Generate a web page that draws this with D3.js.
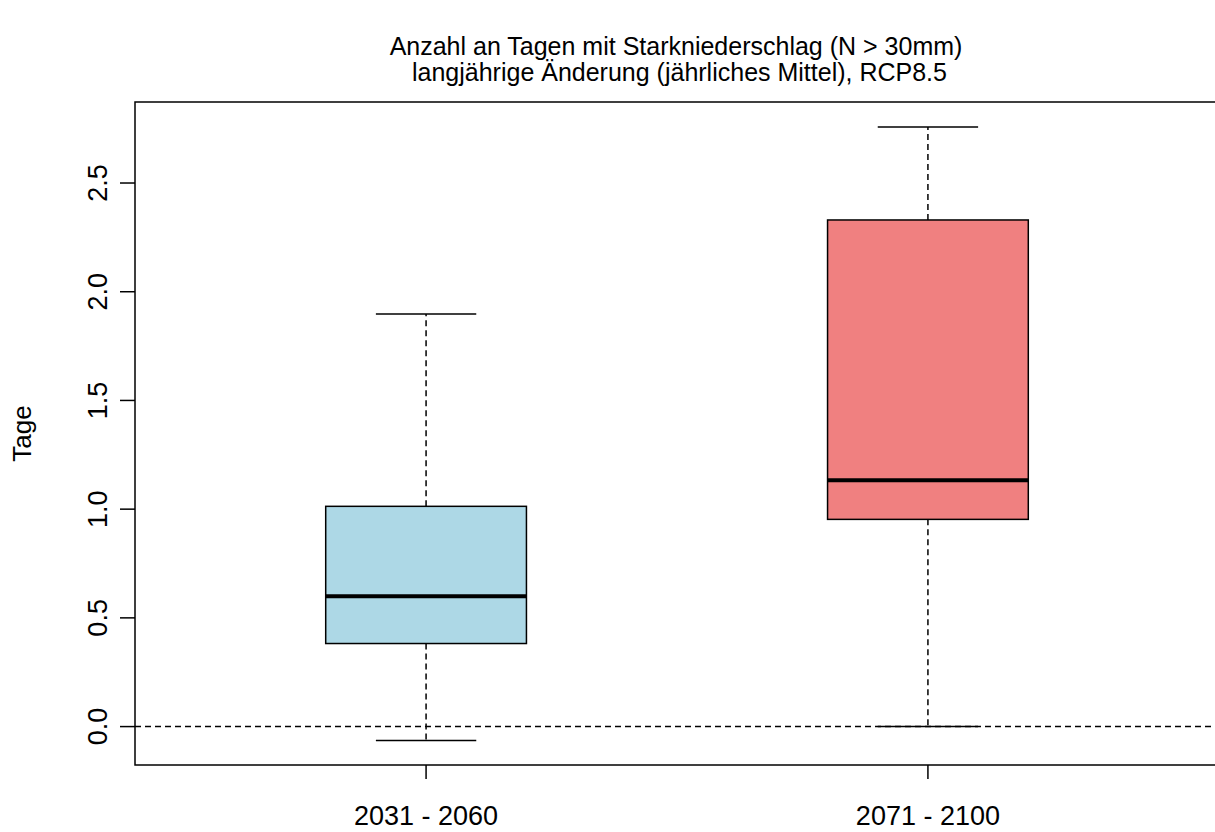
<!DOCTYPE html>
<html>
<head>
<meta charset="utf-8">
<script src="https://cdn.jsdelivr.net/npm/d3@7"></script>
<style>
  body { margin: 0; background: #fff; }
  svg { display: block; font-family: "Liberation Sans", Arial, sans-serif; }
</style>
</head>
<body>
<div id="chart"></div>
<script>
// data
const periods = ['2031 - 2060', '2071 - 2100'];
const whiskerLow = [-0.064, 0.0];
const q1 = [0.382, 0.953];
const median = [0.599, 1.133];
const q3 = [1.013, 2.33];
const whiskerHigh = [1.897, 2.758];
const fills = ['#add8e6', '#f08080'];
const yTicks = [0, 0.5, 1, 1.5, 2, 2.5];
const titleLines = ['Anzahl an Tagen mit Starkniederschlag (N > 30mm)', ' langjährige Änderung (jährliches Mittel), RCP8.5'];

const width = 1215, height = 832;
const plotLeft = 135, plotRight = 1219, plotTop = 102, plotBottom = 765;

const svg = d3.select('#chart').append('svg')
  .attr('width', width)
  .attr('height', height);

const x = d3.scaleLinear().domain([0.42, 2.58]).range([plotLeft, plotRight]);
const y = d3.scaleLinear().domain([-0.1767, 2.8726]).range([plotBottom, plotTop]);

const boxes = periods.map((p, i) => ({
  pos: i + 1, label: p, lo: whiskerLow[i], q1: q1[i], med: median[i], q3: q3[i], hi: whiskerHigh[i], fill: fills[i]
}));

// zero line
svg.append('line')
  .attr('x1', plotLeft).attr('x2', width)
  .attr('y1', y(0)).attr('y2', y(0))
  .attr('stroke', '#000').attr('stroke-width', 1.5)
  .attr('stroke-dasharray', '6,4');

const g = svg.append('g').selectAll('g')
  .data(boxes)
  .enter()
  .append('g');

// whiskers
g.append('line')
  .attr('x1', d => x(d.pos)).attr('x2', d => x(d.pos))
  .attr('y1', d => y(d.q3)).attr('y2', d => y(d.hi))
  .attr('stroke', '#000').attr('stroke-width', 1.5).attr('stroke-dasharray', '6,4');
g.append('line')
  .attr('x1', d => x(d.pos)).attr('x2', d => x(d.pos))
  .attr('y1', d => y(d.q1)).attr('y2', d => y(d.lo))
  .attr('stroke', '#000').attr('stroke-width', 1.5).attr('stroke-dasharray', '6,4');

// caps
['hi', 'lo'].forEach(k => {
  g.append('line')
    .attr('x1', d => x(d.pos - 0.1)).attr('x2', d => x(d.pos + 0.1))
    .attr('y1', d => y(d[k])).attr('y2', d => y(d[k]))
    .attr('stroke', '#000').attr('stroke-width', 1.5);
});

// boxes
g.append('rect')
  .attr('x', d => x(d.pos - 0.2))
  .attr('width', d => x(d.pos + 0.2) - x(d.pos - 0.2))
  .attr('y', d => y(d.q3))
  .attr('height', d => y(d.q1) - y(d.q3))
  .attr('fill', d => d.fill)
  .attr('stroke', '#000').attr('stroke-width', 1.5);

// medians
g.append('line')
  .attr('x1', d => x(d.pos - 0.2)).attr('x2', d => x(d.pos + 0.2))
  .attr('y1', d => y(d.med)).attr('y2', d => y(d.med))
  .attr('stroke', '#000').attr('stroke-width', 4);

// frame
svg.append('rect')
  .attr('x', plotLeft).attr('y', plotTop)
  .attr('width', plotRight - plotLeft).attr('height', plotBottom - plotTop)
  .attr('fill', 'none').attr('stroke', '#000').attr('stroke-width', 1.5);

// x axis
const xAxis = svg.append('g');
xAxis.selectAll('line')
  .data(boxes)
  .enter()
  .append('line')
  .attr('x1', d => x(d.pos)).attr('x2', d => x(d.pos))
  .attr('y1', plotBottom).attr('y2', plotBottom + 14)
  .attr('stroke', '#000').attr('stroke-width', 1.5);
xAxis.selectAll('text')
  .data(boxes)
  .enter()
  .append('text')
  .attr('x', d => x(d.pos))
  .attr('y', 825)
  .attr('text-anchor', 'middle')
  .style('font-size', '27px')
  .text(d => d.label);

// y axis
const yAxis = svg.append('g');
yAxis.selectAll('line')
  .data(yTicks)
  .enter()
  .append('line')
  .attr('x1', plotLeft - 15).attr('x2', plotLeft)
  .attr('y1', d => y(d)).attr('y2', d => y(d))
  .attr('stroke', '#000').attr('stroke-width', 1.5);
yAxis.selectAll('text')
  .data(yTicks)
  .enter()
  .append('text')
  .attr('transform', d => `translate(107,${y(d)}) rotate(-90)`)
  .attr('text-anchor', 'middle')
  .style('font-size', '27px')
  .text(d => d.toFixed(1));

svg.append('text')
  .attr('transform', `translate(31,${(plotTop + plotBottom) / 2}) rotate(-90)`)
  .attr('text-anchor', 'middle')
  .style('font-size', '26px')
  .text('Tage');

// title
svg.append('g').selectAll('text')
  .data(titleLines)
  .enter()
  .append('text')
  .attr('x', 676)
  .attr('y', (d, i) => 55 + i * 26)
  .attr('text-anchor', 'middle')
  .attr('xml:space', 'preserve')
  .style('white-space', 'pre')
  .style('font-size', '25px')
  .text(d => d);
</script>
</body>
</html>
